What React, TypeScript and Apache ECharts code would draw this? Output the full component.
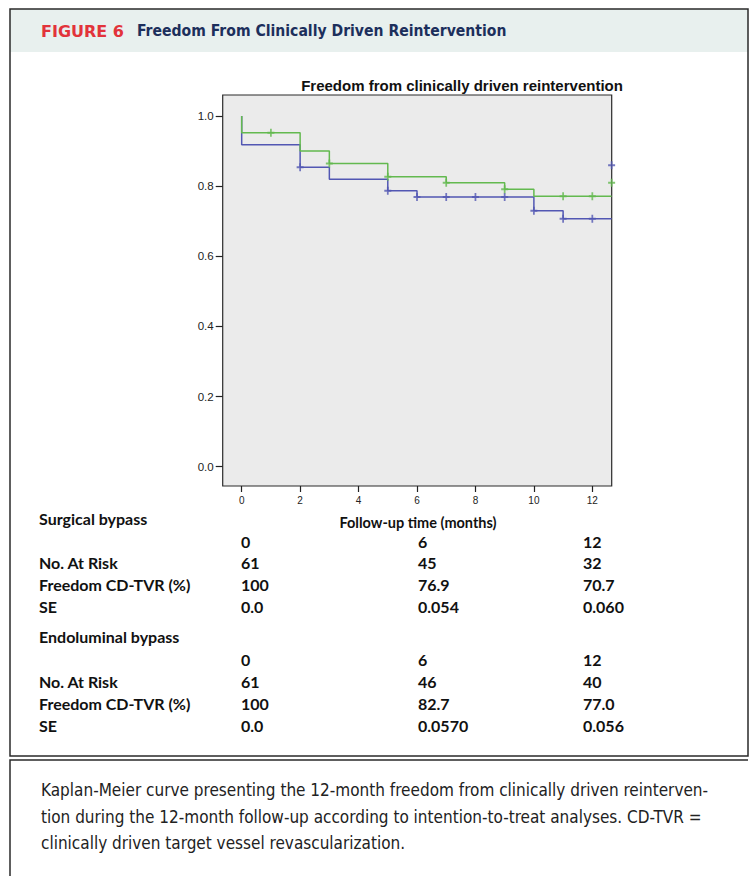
import React, { useEffect, useRef } from "react";
import * as echarts from "echarts";

// ---- Data ----
const xTicks = [0, 2, 4, 6, 8, 10, 12];
const yTicks = [0, 0.2, 0.4, 0.6, 0.8, 1.0];

// Kaplan-Meier curves: event times and survival after each event
const endoTimes = [0, 0, 2, 3, 5, 7, 9, 10, 12.66];
const endoSurv = [1.0, 0.952, 0.9, 0.865, 0.827, 0.81, 0.791, 0.771, 0.771];
const endoCensorT = [1, 3, 5, 7, 9, 11, 12, 12.66];
const endoCensorS = [0.952, 0.865, 0.827, 0.81, 0.791, 0.771, 0.771, 0.81];

const surgTimes = [0, 0, 2, 3, 5, 6, 10, 11, 12.66];
const surgSurv = [1.0, 0.918, 0.854, 0.82, 0.787, 0.769, 0.73, 0.707, 0.707];
const surgCensorT = [2, 5, 6, 7, 8, 9, 10, 11, 12, 12.66];
const surgCensorS = [0.854, 0.787, 0.769, 0.769, 0.769, 0.769, 0.73, 0.707, 0.707, 0.86];

// Risk table
const tableTimes = ["0", "6", "12"];
const surgAtRisk = ["61", "45", "32"];
const surgFreedom = ["100", "76.9", "70.7"];
const surgSE = ["0.0", "0.054", "0.060"];
const endoAtRisk = ["61", "46", "40"];
const endoFreedom = ["100", "82.7", "77.0"];
const endoSE = ["0.0", "0.0570", "0.056"];

const captionLines = [
  "Kaplan-Meier curve presenting the 12-month freedom from clinically driven reinterven-",
  "tion during the 12-month follow-up according to intention-to-treat analyses. CD-TVR =",
  "clinically driven target vessel revascularization.",
];

const GREEN = "#63b94f";
const BLUE = "#5257b3";
const TABLE_FONT = "Lato, 'Open Sans', sans-serif";
const CAPTION_FONT = "'Liberation Sans Narrow', 'DejaVu Sans Condensed', sans-serif";

function zipPts(a: number[], b: number[]) {
  return a.map((t, i) => [t, b[i]]);
}

export default function App() {
  const ref = useRef<HTMLDivElement>(null);
  useEffect(() => {
    if (!ref.current) return;
    const chart = echarts.init(ref.current, undefined, { renderer: "svg" });

    const colX = [241, 418, 583];
    const labelX = 39;
    const tableText = (x: number, y: number, text: string) => ({
      type: "text",
      x,
      y,
      style: {
        text,
        fill: "#111",
        font: `bold 16px ${TABLE_FONT}`,
        textAlign: "left",
        textVerticalAlign: "middle",
      },
    });
    const rowBlock = (rows: [string, string[], number][]) => {
      const out: any[] = [];
      rows.forEach(([label, vals, y]) => {
        if (label) out.push(tableText(labelX, y, label));
        vals.forEach((v, i) => out.push(tableText(colX[i], y, v)));
      });
      return out;
    };

    const graphics: any[] = [
      // header band
      { type: "rect", shape: { x: 10, y: 9, width: 738, height: 43 }, style: { fill: "#e8f0ee" }, z: 0 },
      // outer border
      {
        type: "rect",
        shape: { x: 10, y: 9, width: 738, height: 747 },
        style: { fill: "none", stroke: "#2a2a2a", lineWidth: 1.5 },
        z: 0,
      },
      {
        type: "text",
        x: 41,
        y: 31,
        style: {
          text: "FIGURE 6",
          fill: "#e2333a",
          font: "bold 16px 'DejaVu Sans', sans-serif",
          textVerticalAlign: "middle",
        },
      },
      {
        type: "text",
        x: 137,
        y: 31,
        style: {
          text: "Freedom From Clinically Driven Reintervention",
          fill: "#1c2f5c",
          font: "bold 15.6px 'DejaVu Sans Condensed', sans-serif",
          textVerticalAlign: "middle",
        },
      },
      // plot title
      {
        type: "text",
        x: 462,
        y: 85,
        style: {
          text: "Freedom from clinically driven reintervention",
          fill: "#111",
          font: "bold 15px 'Liberation Sans', Arial, sans-serif",
          textAlign: "center",
          textVerticalAlign: "middle",
        },
      },
      // axis name
      {
        type: "text",
        x: 418,
        y: 522,
        style: {
          text: "Follow-up time (months)",
          fill: "#111",
          font: `bold 14.5px ${TABLE_FONT}`,
          textAlign: "center",
          textVerticalAlign: "middle",
        },
      },
      tableText(labelX, 518, "Surgical bypass"),
      ...rowBlock([
        ["", tableTimes, 541],
        ["No. At Risk", surgAtRisk, 562],
        ["Freedom CD-TVR (%)", surgFreedom, 584],
        ["SE", surgSE, 606],
      ]),
      tableText(labelX, 636, "Endoluminal bypass"),
      ...rowBlock([
        ["", tableTimes, 659],
        ["No. At Risk", endoAtRisk, 681],
        ["Freedom CD-TVR (%)", endoFreedom, 703],
        ["SE", endoSE, 725],
      ]),
      // caption box
      {
        type: "polyline",
        shape: { points: [[10, 876], [10, 760], [748, 760]] },
        style: { fill: "none", stroke: "#2a2a2a", lineWidth: 1.5 },
      },
      ...captionLines.map((t, i) => ({
        type: "text",
        x: 41,
        y: 790 + i * 26.5,
        style: {
          text: t,
          fill: "#222",
          font: `17px ${CAPTION_FONT}`,
          textVerticalAlign: "middle",
        },
      })),
    ];

    // plus-shaped censor mark (vertical bar with a short, thick horizontal arm)
    const censorSymbol = {
      symbol: "path://M3,0H5V3H8V5H5V8H3V5H0V3H3Z",
      symbolSize: [7, 8] as any,
    };

    chart.setOption({
      animation: false,
      backgroundColor: "#ffffff",
      grid: {
        left: 222.7,
        top: 95,
        width: 389,
        height: 391,
        show: true,
        backgroundColor: "#ebebeb",
        borderColor: "#2b2b2b",
        borderWidth: 1.2,
      },
      xAxis: {
        type: "value",
        min: -0.65,
        max: 12.663,
        position: "bottom",
        axisLine: { show: false, onZero: false },
        splitLine: { show: false },
        axisTick: { show: true, length: 6, customValues: xTicks, lineStyle: { color: "#222", width: 1.2 } },
        axisLabel: { customValues: xTicks, fontSize: 10, color: "#222", margin: 9, fontFamily: "'Liberation Sans', Arial" },
      },
      yAxis: {
        type: "value",
        min: -0.055,
        max: 1.06,
        position: "left",
        axisLine: { show: false, onZero: false },
        splitLine: { show: false },
        axisTick: { show: true, length: 7, customValues: yTicks, lineStyle: { color: "#222", width: 1.2 } },
        axisLabel: {
          customValues: yTicks,
          fontSize: 11.5,
          color: "#222",
          margin: 9,
          fontFamily: "'Liberation Sans', Arial",
          formatter: (v: number) => v.toFixed(1),
        },
      },
      graphic: graphics,
      series: [
        {
          type: "line",
          name: "Surgical bypass",
          step: "end",
          data: zipPts(surgTimes, surgSurv),
          showSymbol: false,
          lineStyle: { color: BLUE, width: 1.5 },
          z: 2,
        },
        {
          type: "line",
          name: "Endoluminal bypass",
          step: "end",
          data: zipPts(endoTimes, endoSurv),
          showSymbol: false,
          lineStyle: { color: GREEN, width: 1.5 },
          z: 3,
        },
        {
          type: "scatter",
          data: zipPts(surgCensorT, surgCensorS),
          ...censorSymbol,
          itemStyle: { color: BLUE },
          z: 4,
        },
        {
          type: "scatter",
          data: zipPts(endoCensorT, endoCensorS),
          ...censorSymbol,
          itemStyle: { color: GREEN },
          z: 4,
        },
      ],
    });
    return () => chart.dispose();
  }, []);
  return (
    <div
      ref={ref}
      style={{ position: "absolute", left: 0, top: 0, width: 756, height: 876, background: "#fff" }}
    />
  );
}
